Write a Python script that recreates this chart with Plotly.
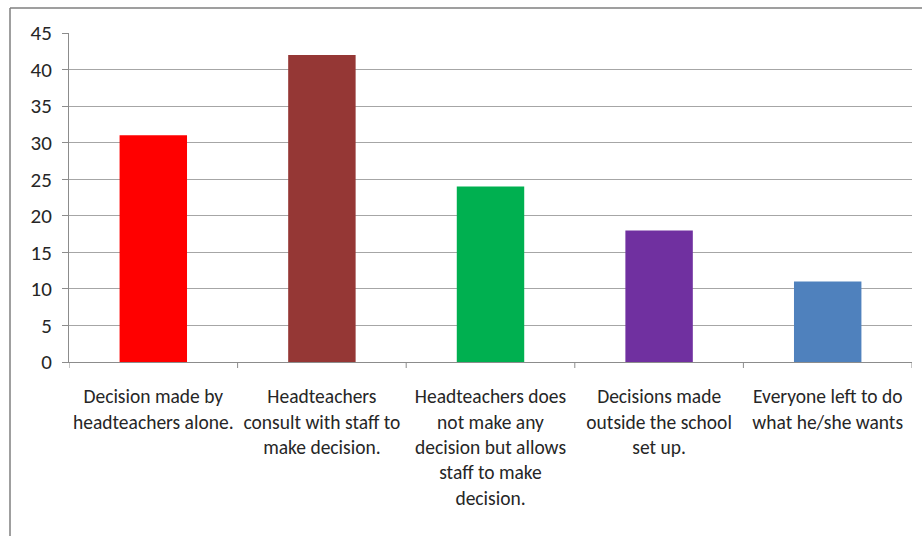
import plotly.graph_objects as go

categories = [
    "Decision made by<br>headteachers alone.",
    "Headteachers<br>consult with staff to<br>make decision.",
    "Headteachers does<br>not make any<br>decision but allows<br>staff to make<br>decision.",
    "Decisions made<br>outside the school<br>set up.",
    "Everyone left to do<br>what he/she wants",
]
values = [31, 42, 24, 18, 11]
colors = ["#ff0000", "#953735", "#00b050", "#7030a0", "#4f81bd"]

fig = go.Figure(go.Bar(x=categories, y=values, marker_color=colors,
                       marker_line_width=0, width=0.4))

L, R, T, B = 69, 10, 33, 174
W, H = 922, 536
pw, ph = W - L - R, H - T - B

def px(x):
    return (x - L) / pw

def py(y):
    return 1 - (y - T) / ph

fig.update_layout(
    width=W, height=H,
    margin=dict(l=L, r=R, t=T, b=B),
    paper_bgcolor="white", plot_bgcolor="white",
    font=dict(family="Carlito, Calibri, 'Liberation Sans', sans-serif", size=19.5, color="#262626"),
    showlegend=False,
    bargap=0.6,
    xaxis=dict(showgrid=False, showline=True, linecolor="#8c8c8c", linewidth=1,
               ticks="", tickangle=0, range=[-0.5, 4.5], ticklabelstandoff=17),
    yaxis=dict(range=[0, 45], dtick=5, showgrid=True, gridcolor="#a6a6a6",
               showline=True, linecolor="#8c8c8c", ticks="outside", ticklen=6,
               tickcolor="#8c8c8c", zeroline=False, ticklabelstandoff=6,
               tickfont=dict(size=21)),
    shapes=[
        dict(type="line", xref="paper", yref="paper", x0=px(10), x1=px(10),
             y0=py(8), y1=py(540), line=dict(color="#7f7f7f", width=1.5)),
        dict(type="line", xref="paper", yref="paper", x0=px(10), x1=px(925),
             y0=py(8), y1=py(8), line=dict(color="#7f7f7f", width=1.5)),
    ],
)
# category boundary ticks
for i in range(len(categories) + 1):
    fig.add_shape(type="line", xref="x", yref="paper", x0=i - 0.5, x1=i - 0.5,
                  y0=0, y1=py(368), line=dict(color="#8c8c8c", width=1))

fig.write_html("out.html")
